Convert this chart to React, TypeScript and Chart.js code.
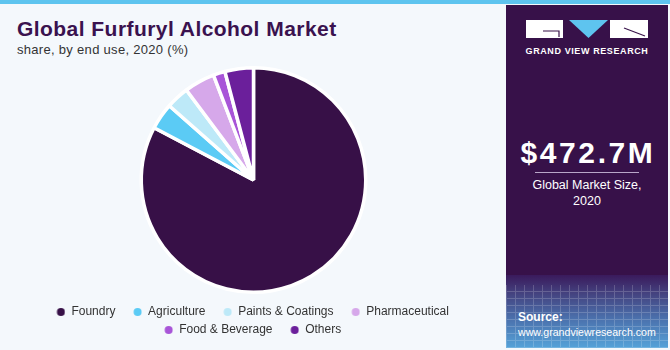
import React, { useEffect, useRef } from "react";
import { Chart, registerables } from "chart.js";

Chart.register(...registerables);

const categories = ["Foundry", "Agriculture", "Paints & Coatings", "Pharmaceutical", "Food & Beverage", "Others"];
const shares = [82.7, 3.8, 3.3, 4.4, 1.7, 4.1];
const sliceColors = ["#371047", "#5bcbf5", "#bde9f8", "#d6a8ea", "#a855d8", "#6b1f9b"];
const titleText = "Global Furfuryl Alcohol Market";
const subtitleText = "share, by end use, 2020 (%)";
const marketSize = "$472.7M";
const marketLabel = ["Global Market Size,", "2020"];
const brandName = "GRAND VIEW RESEARCH";
const sourceLines = ["Source:", "www.grandviewresearch.com"];

const FONT = "'Liberation Sans', Arial, sans-serif";

function makeDot(color: string) {
  const c = document.createElement("canvas");
  c.width = 14;
  c.height = 10;
  const ctx = c.getContext("2d")!;
  ctx.fillStyle = color;
  ctx.beginPath();
  ctx.arc(9.5, 5, 4, 0, Math.PI * 2);
  ctx.fill();
  return c;
}

function PieChart() {
  const ref = useRef<HTMLCanvasElement | null>(null);
  useEffect(() => {
    if (!ref.current) return;
    const dots = sliceColors.map(makeDot);
    const chart = new Chart(ref.current, {
      type: "pie",
      data: {
        labels: categories,
        datasets: [
          {
            data: shares,
            backgroundColor: sliceColors,
            borderColor: "#ffffff",
            borderWidth: 3.5,
            hoverOffset: 0,
          },
        ],
      },
      options: {
        responsive: false,
        animation: false,
        layout: { padding: { top: 66, bottom: 4, left: 0, right: 0 } },
        plugins: {
          tooltip: { enabled: false },
          legend: {
            position: "bottom",
            title: {
              display: true,
              text: "",
              font: { size: 1, lineHeight: 1 },
              padding: { top: 0, bottom: 5 },
            },
            labels: {
              usePointStyle: true,
              pointStyleWidth: 14,
              boxHeight: 10,
              padding: 6,
              color: "#333333",
              font: { family: FONT, size: 12 },
              generateLabels: () =>
                categories.map((label, i) => ({
                  text: label + "  ",
                  fillStyle: sliceColors[i],
                  strokeStyle: sliceColors[i],
                  lineWidth: 0,
                  pointStyle: dots[i] as any,
                  hidden: false,
                  index: i,
                  fontColor: "#333333",
                })),
            },
          },
        },
      },
    });
    return () => chart.destroy();
  }, []);
  return <canvas ref={ref} width={507} height={350} style={{ position: "absolute", left: 0, top: 0 }} />;
}

export default function App() {
  return (
    <div
      style={{
        position: "absolute",
        left: 0,
        top: 0,
        width: 670,
        height: 350,
        background: "#f4f8fc",
        overflow: "hidden",
        fontFamily: FONT,
      }}
    >
      <div style={{ position: "absolute", left: 0, top: 0, width: 670, height: 4, background: "#5ec4ef" }} />
      <div
        style={{
          position: "absolute",
          left: 17,
          top: 17,
          fontSize: 21,
          fontWeight: 900,
          color: "#3a124f",
          whiteSpace: "nowrap",
          letterSpacing: 0.45,
        }}
      >
        {titleText}
      </div>
      <div
        style={{
          position: "absolute",
          left: 17,
          top: 42,
          fontSize: 13,
          color: "#333333",
          whiteSpace: "nowrap",
          letterSpacing: 0.3,
        }}
      >
        {subtitleText}
      </div>
      <PieChart />
      {/* right panel */}
      <div
        style={{
          position: "absolute",
          left: 506,
          top: 5,
          width: 162,
          height: 343,
          background: "#371149",
          overflow: "hidden",
        }}
      >
        <div
          style={{
            position: "absolute",
            left: 0,
            top: 270,
            width: 162,
            height: 73,
            background: "linear-gradient(180deg, #3a1a5c 0%, #44427f 25%, #4b71ad 60%, #55a2d8 100%)",
          }}
        />
        <div
          style={{
            position: "absolute",
            left: 0,
            top: 280,
            width: 162,
            height: 63,
            opacity: 0.18,
            backgroundImage:
              "repeating-linear-gradient(90deg, #ffffff 0px, #ffffff 1px, transparent 1px, transparent 9px), repeating-linear-gradient(0deg, #ffffff 0px, #ffffff 1px, transparent 1px, transparent 7px)",
          }}
        />
        <svg width={162} height={40} style={{ position: "absolute", left: 0, top: 10 }}>
          <rect x={20} y={5} width={37} height={18} fill="#ffffff" />
          <polyline points="37,16 53,16 53,22" fill="none" stroke="#371149" strokeWidth={1.2} />
          <polygon points="63,5 102,5 82.5,23" fill="#5ec4ef" />
          <rect x={104} y={5} width={38} height={18} fill="#ffffff" />
          <line x1={118} y1={13} x2={139} y2={21} stroke="#371149" strokeWidth={1.2} />
        </svg>
        <div
          style={{
            position: "absolute",
            left: 0,
            width: 162,
            top: 41,
            textAlign: "center",
            color: "#ffffff",
            fontSize: 9,
            fontWeight: 700,
            letterSpacing: 0.6,
            whiteSpace: "nowrap",
          }}
        >
          {brandName}
        </div>
        <div
          style={{
            position: "absolute",
            left: 1,
            width: 162,
            top: 131,
            textAlign: "center",
            color: "#ffffff",
            fontSize: 30,
            fontWeight: 900,
            letterSpacing: 2.6,
            whiteSpace: "nowrap",
          }}
        >
          {marketSize}
        </div>
        <div style={{ position: "absolute", left: 29, top: 167, width: 104, height: 1, background: "#b9a6c9" }} />
        <div
          style={{
            position: "absolute",
            left: 0,
            width: 162,
            top: 172,
            textAlign: "center",
            color: "#ffffff",
            fontSize: 12.5,
            lineHeight: "16px",
          }}
        >
          {marketLabel[0]}
          <br />
          {marketLabel[1]}
        </div>
        <div
          style={{
            position: "absolute",
            left: 12,
            top: 305,
            color: "#ffffff",
            fontSize: 10.6,
            lineHeight: "15px",
            whiteSpace: "nowrap",
          }}
        >
          <span style={{ fontWeight: 700, fontSize: 12 }}>{sourceLines[0]}</span>
          <br />
          {sourceLines[1]}
        </div>
      </div>
    </div>
  );
}
